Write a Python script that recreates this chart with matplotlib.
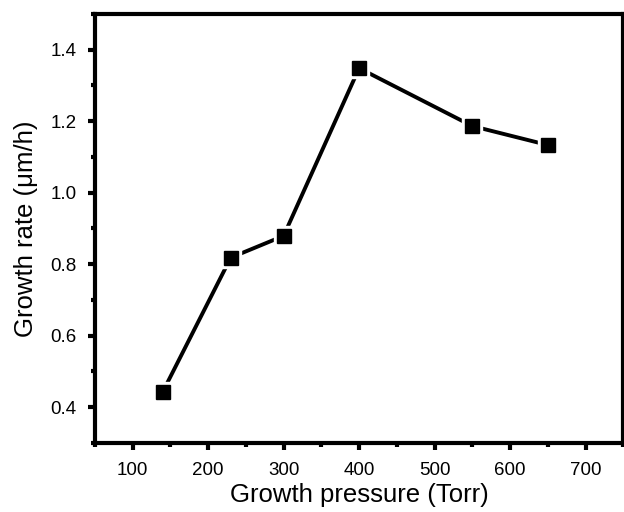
import numpy as np
import matplotlib.pyplot as plt
from matplotlib.ticker import MultipleLocator

pressure = [140, 230, 300, 400, 550, 650]
rate = [0.443, 0.818, 0.879, 1.348, 1.186, 1.133]

plt.rcParams['font.family'] = ['Liberation Sans', 'DejaVu Sans']

fig = plt.figure(figsize=(6.24, 5.12), dpi=100)
ax = fig.add_axes([0.152, 0.135, 0.847, 0.838])

ax.plot(pressure, rate, color='black', lw=2.8, zorder=2)
# white halo so the line stops short of the markers
ax.plot(pressure, rate, ls='none', marker='s', ms=14, color='white', zorder=3)
ax.plot(pressure, rate, ls='none', marker='s', ms=10.5, color='black', zorder=4)

ax.set_xlim(50, 750)
ax.set_ylim(0.3, 1.5)
ax.xaxis.set_minor_locator(MultipleLocator(50))
ax.yaxis.set_minor_locator(MultipleLocator(0.1))
ax.set_yticks(np.arange(0.4, 1.41, 0.2))
ax.set_xticks(np.arange(100, 701, 100))

for s in ax.spines.values():
    s.set_linewidth(3)
ax.tick_params(which='major', direction='out', length=5, width=3, labelsize=13.5)
ax.tick_params(which='minor', direction='out', length=3, width=3)
ax.tick_params(axis='x', pad=9)
ax.tick_params(axis='y', pad=8)

ax.set_xlabel('Growth pressure (Torr)', fontsize=18.5, labelpad=3)
ax.set_ylabel('Growth rate (μm/h)', fontsize=18.5, labelpad=9)

fig.savefig('out.png', dpi=100)
